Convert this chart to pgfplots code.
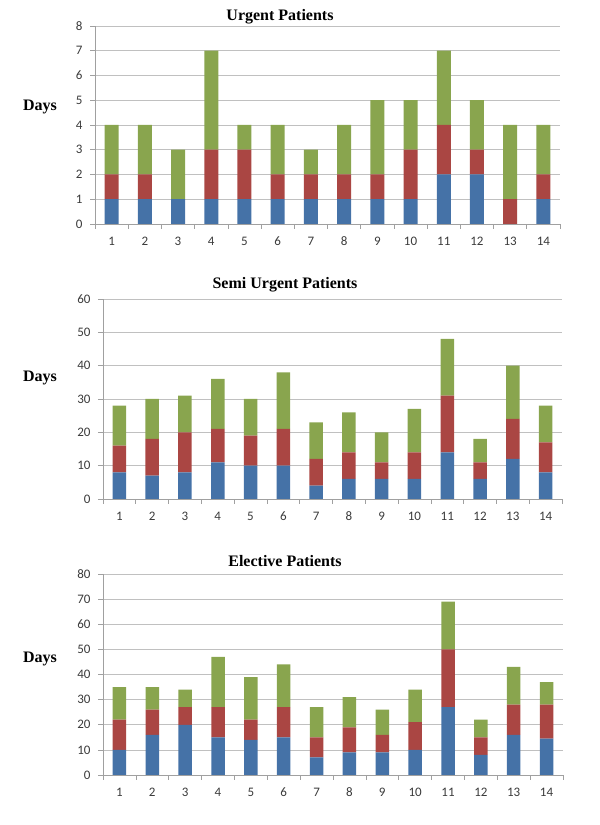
\documentclass[border=0pt]{standalone}
\usepackage{fontspec}
\setmainfont{Liberation Serif}
\newfontfamily\carlito{Carlito}
\usepackage{pgfplots}
\usepackage{pgfplotstable}
\pgfplotsset{compat=1.18}
\definecolor{cblue}{HTML}{4572A7}
\definecolor{cred}{HTML}{AA4643}
\definecolor{cgreen}{HTML}{89A54E}
\definecolor{axgray}{HTML}{A0A0A0}
\definecolor{grgray}{HTML}{C0C0C0}
\definecolor{lblgray}{HTML}{3A3A3A}

\pgfplotstableread{
x b r g
1 1 1 2
2 1 1 2
3 1 0 2
4 1 2 4
5 1 2 1
6 1 1 2
7 1 1 1
8 1 1 2
9 1 1 3
10 1 2 2
11 2 2 3
12 2 1 2
13 0 1 3
14 1 1 2
}\urgent

\pgfplotstableread{
x b r g
1 8 8 12
2 7 11 12
3 8 12 11
4 11 10 15
5 10 9 11
6 10 11 17
7 4 8 11
8 6 8 12
9 6 5 9
10 6 8 13
11 14 17 17
12 6 5 7
13 12 12 16
14 8 9 11
}\semi

\pgfplotstableread{
x b r g
1 10 12 13
2 16 10 9
3 20 7 7
4 15 12 20
5 14 8 17
6 15 12 17
7 7 8 12
8 9 10 12
9 9 7 10
10 10 11 13
11 27 23 19
12 8 7 7
13 16 12 15
14 14.5 13.5 9
}\elective

\pgfplotsset{panel/.style={
  scale only axis, anchor=south west,
  ybar stacked, bar width=13.5pt,
  xmin=0.5, xmax=14.5, ymin=0,
  axis x line*=bottom, axis y line*=left,
  axis line style={-, draw=axgray, line width=0.6pt},
  xtick={0.5,1.5,...,14.5},
  xticklabels={},
  extra x ticks={1,2,...,14},
  extra x tick labels={1,2,3,4,5,6,7,8,9,10,11,12,13,14},
  extra x tick style={major tick length=0pt, grid=none},
  tick align=outside,
  major tick length=5pt,
  tick style={draw=axgray, line width=0.6pt},
  ymajorgrids,
  grid style={draw=grgray, line width=0.6pt},
  /pgf/number format/assume math mode=true,
  tick label style={font=\carlito\fontsize{13pt}{13pt}\selectfont, text=lblgray},
  xticklabel style={anchor=center, yshift=-17pt},
  yticklabel style={anchor=east, xshift=-4pt},
  every axis plot/.append style={draw=none},
}}

\begin{document}
\begin{tikzpicture}
\path[use as bounding box] (0,0) rectangle (600pt,825pt);

\begin{axis}[panel, at={(95pt,601pt)}, width=465pt, height=198pt,
  ymax=8, ytick distance=1, bar width=14pt]
\addplot[fill=cblue] table[x=x,y=b]{\urgent};
\addplot[fill=cred] table[x=x,y=r]{\urgent};
\addplot[fill=cgreen] table[x=x,y=g]{\urgent};
\end{axis}

\begin{axis}[panel, at={(103pt,326pt)}, width=459pt, height=200pt,
  ymax=60, ytick distance=10]
\addplot[fill=cblue] table[x=x,y=b]{\semi};
\addplot[fill=cred] table[x=x,y=r]{\semi};
\addplot[fill=cgreen] table[x=x,y=g]{\semi};
\end{axis}

\begin{axis}[panel, at={(103pt,50pt)}, width=460pt, height=201pt,
  ymax=80, ytick distance=10]
\addplot[fill=cblue] table[x=x,y=b]{\elective};
\addplot[fill=cred] table[x=x,y=r]{\elective};
\addplot[fill=cgreen] table[x=x,y=g]{\elective};
\end{axis}

\node[font=\bfseries\fontsize{16pt}{16pt}\selectfont] at (280pt,808pt) {Urgent Patients};
\node[font=\bfseries\fontsize{16pt}{16pt}\selectfont] at (285pt,540pt) {Semi Urgent Patients};
\node[font=\bfseries\fontsize{16pt}{16pt}\selectfont] at (285pt,264pt) {Elective Patients};
\node[font=\bfseries\fontsize{16pt}{16pt}\selectfont] at (40pt,718pt) {Days};
\node[font=\bfseries\fontsize{16pt}{16pt}\selectfont] at (40pt,447pt) {Days};
\node[font=\bfseries\fontsize{16pt}{16pt}\selectfont] at (40pt,166pt) {Days};
\end{tikzpicture}
\end{document}
